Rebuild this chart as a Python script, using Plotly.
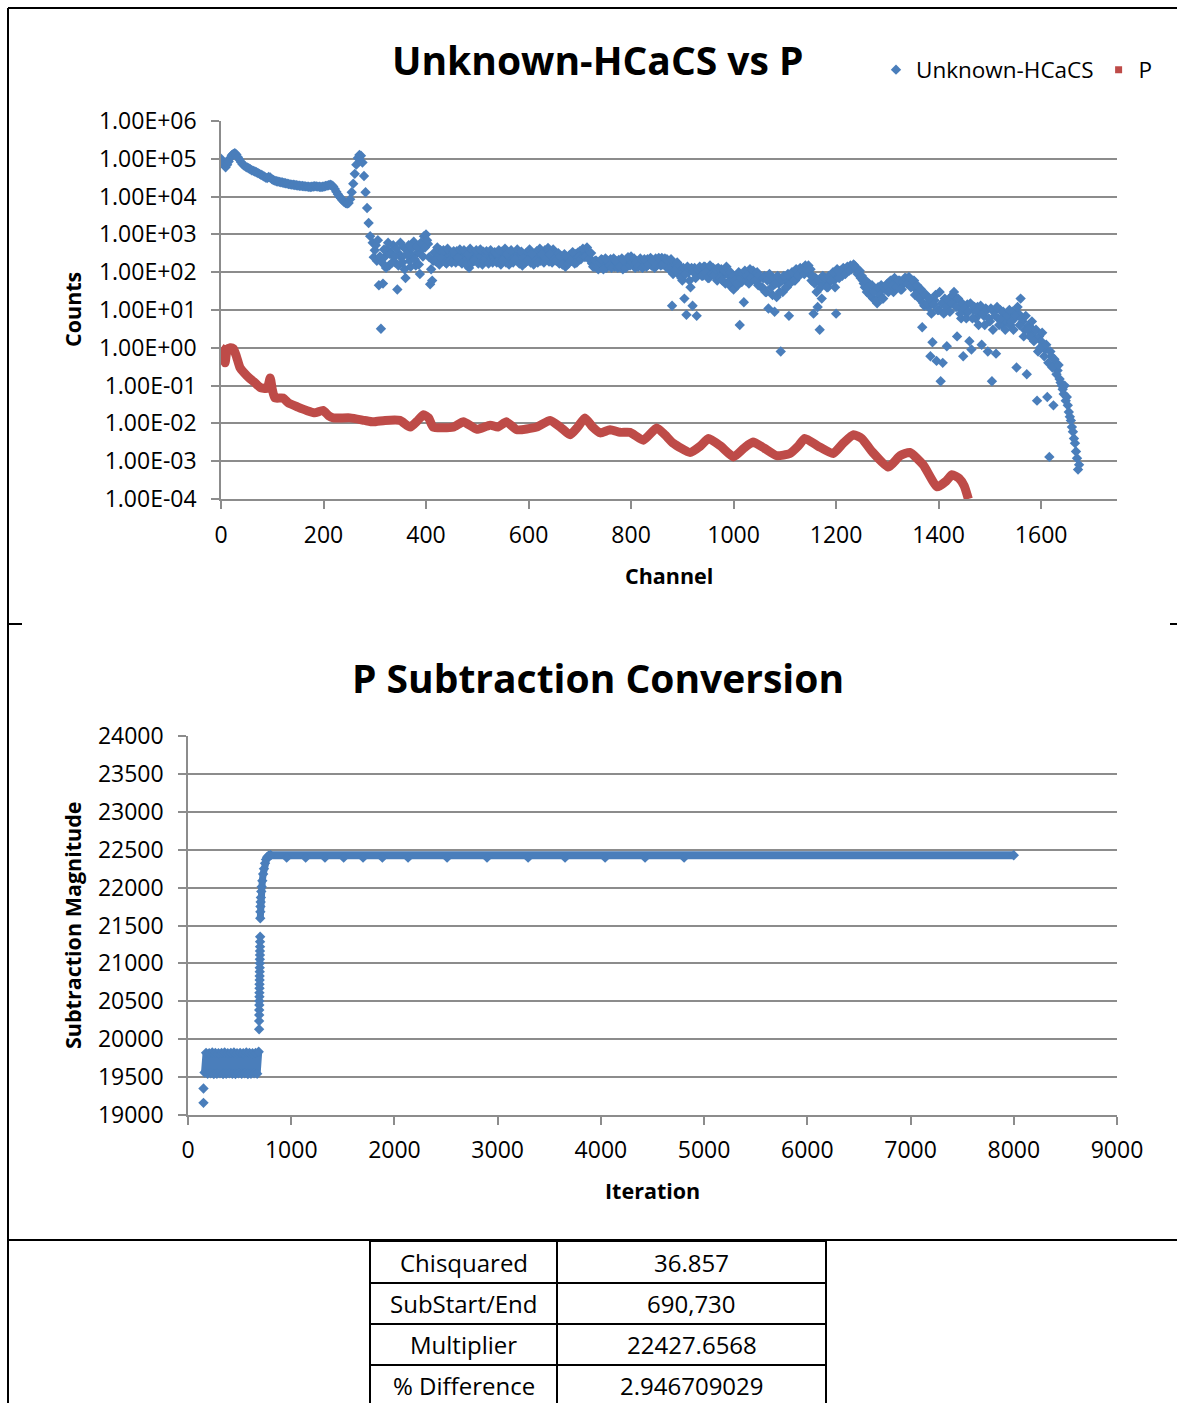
import plotly.graph_objects as go

# ---------------- data: spectrum comparison ----------------
# Unknown-HCaCS counts, low channels (every 3 channels from 0)
unknown_counts_low = [
    1.0e5, 8.5e4, 6.8e4, 6.0e4, 7.0e4, 8.5e4, 1.05e5, 1.25e5, 1.35e5, 1.4e5,
    1.3e5, 1.1e5, 9.5e4, 8.2e4, 7.2e4, 6.6e4, 6.2e4, 5.9e4, 5.6e4, 5.3e4,
    5.0e4, 4.8e4, 4.6e4, 4.4e4, 4.2e4, 4.0e4, 3.8e4, 3.6e4, 3.4e4, 3.2e4,
    3.1e4, 3.3e4, 3.2e4, 2.9e4, 2.75e4, 2.65e4, 2.55e4, 2.5e4, 2.45e4, 2.4e4,
    2.35e4, 2.3e4, 2.25e4, 2.2e4, 2.15e4, 2.1e4, 2.08e4, 2.05e4, 2.02e4, 2.0e4,
    1.97e4, 1.94e4, 1.92e4, 1.9e4, 1.88e4, 1.86e4, 1.84e4, 1.82e4, 1.8e4, 1.82e4,
    1.85e4, 1.88e4, 1.86e4, 1.84e4, 1.82e4, 1.8e4, 1.82e4, 1.85e4, 1.9e4, 1.95e4,
    2.0e4, 2.05e4, 2.0e4, 1.85e4, 1.6e4, 1.35e4, 1.15e4, 1.0e4, 9.0e3, 8.0e3,
    7.3e3, 6.8e3, 6.5e3, 6.8e3, 8.5e3, 1.3e4, 2.2e4, 4.0e4, 7.0e4, 1.05e5,
    1.26e5, 1.2e5, 8.0e4, 3.5e4, 1.3e4, 5.0e3, 2.0e3, 9.0e2,
]
unknown_low_start, unknown_low_step = 0, 3

# Unknown-HCaCS counts, high channels (every 4 channels from 296)
unknown_counts_high = [
    600, 380, 200, 45, 3.2, 50, 260, 420, 150, 320,
    520, 180, 35, 300, 240, 460, 70, 380, 200, 280,
    640, 150, 330, 90, 420, 900, 1000, 560, 48, 60,
    330, 190, 260, 380, 220, 300, 170, 260, 320, 240,
    280, 360, 200, 300, 250, 340, 220, 130, 280, 320,
    240, 300, 190, 260, 350, 230, 280, 210, 330, 250,
    300, 200, 270, 350, 240, 180, 290, 230, 310, 260,
    220, 300, 250, 150, 280, 330, 240, 180, 270, 300,
    360, 250, 200, 310, 380, 260, 190, 290, 400, 320,
    230, 170, 260, 200, 140, 230, 280, 200, 250, 300,
    330, 360, 300, 380, 340, 290, 230, 170, 140, 200,
    120, 150, 210, 170, 130, 190, 220, 160, 140, 180,
    210, 150, 120, 180, 160, 220, 260, 170, 130, 190,
    160, 200, 140, 180, 220, 170, 150, 200, 230, 180,
    200, 240, 170, 140, 190, 150, 13, 160, 130, 90,
    120, 60, 20, 7.5, 100, 40, 13, 130, 7, 90,
    120, 80, 140, 100, 70, 110, 130, 90, 60, 100,
    120, 80, 50, 90, 60, 40, 35, 70, 45, 4,
    55, 16, 60, 100, 120, 80, 95, 60, 45, 70,
    40, 80, 30, 11, 60, 25, 9, 22, 50, 0.8,
    30, 60, 40, 7, 70, 90, 60, 110, 80, 100,
    130, 150, 110, 90, 60, 8, 70, 12, 3, 20,
    50, 70, 40, 55, 80, 60, 8, 90, 110, 80,
    120, 100, 130, 150, 140, 150, 120, 100, 70, 60,
    40, 30, 50, 25, 20, 35, 15, 30, 45, 20,
    35, 50, 40, 60, 30, 55, 45, 60, 35, 50,
    70, 55, 65, 45, 60, 35, 30, 20, 3.5, 13,
    25, 12, 0.6, 1.4, 18, 0.45, 10, 0.13, 0.4, 20,
    1.1, 14, 22, 25, 18, 2, 12, 6, 0.6, 9,
    14, 1.5, 0.9, 10, 6, 12, 8, 1.2, 7, 11,
    0.8, 5, 0.13, 9, 0.7, 6, 10, 4, 8, 5,
    7, 4, 9, 6, 0.3, 8, 20, 5, 3, 0.2,
    4, 2.5, 3, 1.8, 0.04, 2, 1.5, 1.2, 0.9, 0.05,
    0.0013, 0.6, 0.03, 0.4, 0.25, 0.15, 0.1, 0.06, 0.04, 0.03,
    0.015, 0.008, 0.004, 0.0018, 0.0006,
]
unknown_high_start, unknown_high_step = 296, 4

# Unknown-HCaCS counts, interleaved channels (every 4 channels from 298)
unknown_counts_mid = [
    250, 520, 700, 260, 180, 400, 130, 600, 300, 180,
    260, 420, 150, 600, 180, 120, 300, 520, 140, 450,
    220, 480, 160, 600, 260, 450, 700, 250, 120, 200,
    200, 450, 160, 240, 380, 180, 420, 200, 180, 360,
    180, 240, 400, 170, 380, 160, 300, 420, 180, 200,
    380, 170, 400, 160, 190, 360, 170, 380, 180, 340,
    180, 380, 160, 200, 420, 300, 160, 380, 180, 220,
    400, 170, 350, 240, 180, 200, 400, 300, 160, 200,
    180, 420, 300, 180, 230, 440, 300, 180, 220, 200,
    320, 260, 160, 300, 260, 170, 200, 340, 170, 180,
    250, 220, 420, 250, 450, 220, 320, 140, 200, 130,
    180, 220, 120, 230, 200, 150, 130, 230, 200, 130,
    140, 230, 200, 130, 250, 150, 180, 230, 180, 140,
    230, 130, 220, 140, 160, 240, 200, 130, 160, 240,
    150, 160, 230, 220, 120, 220, 90, 110, 180, 150,
    70, 130, 90, 140, 60, 130, 100, 70, 120, 140,
    80, 140, 100, 70, 150, 90, 80, 120, 130, 70,
    60, 110, 140, 50, 100, 80, 60, 50, 100, 70,
    90, 110, 80, 50, 70, 110, 60, 100, 80, 40,
    70, 30, 60, 90, 40, 70, 50, 80, 30, 60,
    80, 40, 90, 50, 100, 60, 120, 80, 130, 110,
    90, 120, 150, 120, 80, 50, 30, 60, 40, 80,
    70, 40, 80, 60, 100, 40, 120, 70, 90, 130,
    90, 140, 110, 120, 160, 130, 90, 110, 80, 50,
    60, 40, 25, 45, 30, 18, 40, 25, 20, 40,
    45, 30, 60, 45, 70, 40, 60, 35, 55, 70,
    50, 75, 40, 60, 25, 45, 20, 35, 15, 25,
    15, 20, 8, 14, 25, 10, 30, 15, 8, 12,
    18, 9, 15, 30, 12, 20, 8, 15, 11, 6,
    9, 15, 6, 12, 9, 4, 13, 8, 4, 10,
    6, 11, 3, 7, 12, 4, 6, 9, 3, 7,
    10, 5, 3, 7, 12, 4, 6, 2, 7, 3,
    2, 5, 1.5, 3, 0.8, 1, 2.5, 0.6, 1.2, 0.4,
    0.8, 0.3, 0.5, 0.2, 0.35, 0.12, 0.08, 0.1, 0.05, 0.02,
    0.012, 0.006, 0.003, 0.0012, 0.0008,
]
unknown_mid_start, unknown_mid_step = 298, 4

# P reference spectrum
p_channel = [0, 4, 8, 12, 18, 24, 30, 37, 45, 57, 66, 76, 90, 96, 100, 105, 121, 131,
             150, 167, 183, 199, 210, 219, 252, 280, 297, 320, 349, 369, 384, 395, 405,
             414, 453, 473, 499, 525, 540, 557, 577, 616, 642, 662, 681, 696, 710, 725,
             740, 759, 779, 798, 824, 850, 866, 882, 915, 935, 951, 975, 1000, 1020,
             1038, 1060, 1084, 1110, 1126, 1139, 1165, 1194, 1214, 1234, 1250, 1270,
             1302, 1325, 1344, 1370, 1397, 1415, 1426, 1440, 1450, 1458]
p_counts = [1.0, 0.9, 0.4, 0.9, 1.0, 0.95, 0.6, 0.3, 0.22, 0.15, 0.12, 0.09, 0.085, 0.16,
            0.08, 0.047, 0.047, 0.035, 0.027, 0.022, 0.019, 0.022, 0.016, 0.014, 0.014,
            0.012, 0.011, 0.012, 0.012, 0.008, 0.012, 0.017, 0.014, 0.008, 0.008, 0.011,
            0.007, 0.009, 0.008, 0.011, 0.0068, 0.008, 0.012, 0.008, 0.005, 0.008, 0.014,
            0.008, 0.0056, 0.0068, 0.0058, 0.0058, 0.0036, 0.0076, 0.005, 0.003, 0.0017,
            0.0025, 0.004, 0.0025, 0.0013, 0.0022, 0.0032, 0.0022, 0.0014, 0.0016,
            0.0025, 0.004, 0.0025, 0.0016, 0.003, 0.005, 0.004, 0.0018, 0.0007, 0.0014,
            0.0017, 0.0008, 0.00021, 0.0003, 0.00044, 0.00035, 0.00022, 0.0001]

count_ticks = [1e-4, 1e-3, 1e-2, 1e-1, 1e0, 1e1, 1e2, 1e3, 1e4, 1e5, 1e6]
count_tick_text = ["1.00E-04", "1.00E-03", "1.00E-02", "1.00E-01", "1.00E+00",
                   "1.00E+01", "1.00E+02", "1.00E+03", "1.00E+04", "1.00E+05", "1.00E+06"]
channel_ticks = [0, 200, 400, 600, 800, 1000, 1200, 1400, 1600]

# ---------------- data: subtraction convergence ----------------
outlier_iter = [150, 150]
outlier_value = [19350, 19160]
band_iter = [160, 175, 190, 205, 220, 235, 250, 265, 280, 295, 310, 325, 340, 355, 370, 385,
             400, 415, 430, 445, 460, 475, 490, 505, 520, 535, 550, 565, 580, 595, 610, 625,
             640, 655, 670, 685]
band_value = [19560, 19820, 19545, 19815, 19550, 19825, 19540, 19820, 19545, 19815, 19550,
              19820, 19540, 19825, 19545, 19815, 19550, 19820, 19545, 19825, 19540, 19815,
              19550, 19820, 19545, 19815, 19550, 19825, 19540, 19820, 19545, 19815, 19550,
              19820, 19545, 19835]
jump_iter = [689, 689, 690, 690, 691, 691, 692, 692, 693, 693, 694, 694, 695, 695, 696, 696,
             697, 697, 698, 698, 699]
jump_value = [20131, 20240, 20319, 20385, 20451, 20504, 20561, 20614, 20672, 20725, 20781,
              20834, 20891, 20944, 21002, 21055, 21111, 21164, 21221, 21287, 21352]
rise_iter = [700, 701, 702, 704, 706, 710, 714, 720, 728, 736, 746, 756, 766, 780, 800]
rise_value = [21595, 21680, 21750, 21810, 21870, 21950, 22010, 22090, 22180, 22250, 22320,
              22370, 22400, 22420, 22427]
plateau_iter = [800, 8000]
plateau_value = [22427.6568, 22427.6568]
dip_iter = [956, 1140, 1327, 1508, 1696, 1883, 2132, 2510, 2897, 3295, 3653, 4041, 4428, 4806]
dip_value = [22395, 22395, 22395, 22395, 22395, 22395, 22395, 22395, 22395, 22395, 22395,
             22395, 22395, 22395]

magnitude_ticks = [19000, 19500, 20000, 20500, 21000, 21500, 22000, 22500, 23000, 23500, 24000]
magnitude_tick_text = ["19000", "19500", "20000", "20500", "21000", "21500", "22000",
                       "22500", "23000", "23500", "24000"]
iteration_ticks = [0, 1000, 2000, 3000, 4000, 5000, 6000, 7000, 8000, 9000]

# ---------------- data: fit summary table ----------------
table_labels = ["Chisquared", "SubStart/End", "Multiplier", "% Difference"]
table_values = ["36.857", "690,730", "22427.6568", "2.946709029"]

# ---------------- styling ----------------
W, H = 1177, 1403
FONT = "Open Sans"
BLUE = "#4a7ebb"
RED = "#be4b48"
GRID = "#8c8c8c"


def fx(px):
    return px / W


def fy(py):
    return 1 - py / H


def channels(start, step, values):
    return [start + step * i for i in range(len(values))]


fig = go.Figure()

# top chart traces
unknown_x = (channels(unknown_low_start, unknown_low_step, unknown_counts_low)
             + channels(unknown_high_start, unknown_high_step, unknown_counts_high)
             + channels(unknown_mid_start, unknown_mid_step, unknown_counts_mid))
unknown_y = unknown_counts_low + unknown_counts_high + unknown_counts_mid
fig.add_trace(go.Scatter(
    x=unknown_x, y=unknown_y, mode="markers", name="Unknown-HCaCS",
    marker=dict(symbol="diamond", size=8, color=BLUE, line=dict(width=0)),
    xaxis="x", yaxis="y", showlegend=True))
fig.add_trace(go.Scatter(
    x=p_channel, y=p_counts, mode="lines", name="P",
    line=dict(color=RED, width=9, shape="spline", smoothing=0.5),
    xaxis="x", yaxis="y", showlegend=False, legendgroup="p"))
fig.add_trace(go.Scatter(
    x=[None], y=[None], mode="markers", name="P",
    marker=dict(symbol="square", size=7, color=RED),
    xaxis="x", yaxis="y", showlegend=True, legendgroup="p"))

# bottom chart traces
mk = dict(symbol="diamond", size=8, color=BLUE, line=dict(width=0))
fig.add_trace(go.Scatter(x=outlier_iter, y=outlier_value, mode="markers", marker=mk,
                         xaxis="x2", yaxis="y2", showlegend=False))
fig.add_trace(go.Scatter(x=band_iter, y=band_value, mode="lines+markers", marker=mk,
                         line=dict(color=BLUE, width=7),
                         xaxis="x2", yaxis="y2", showlegend=False))
fig.add_trace(go.Scatter(x=jump_iter, y=jump_value, mode="markers", marker=mk,
                         xaxis="x2", yaxis="y2", showlegend=False))
fig.add_trace(go.Scatter(x=rise_iter, y=rise_value, mode="lines+markers", marker=mk,
                         line=dict(color=BLUE, width=7),
                         xaxis="x2", yaxis="y2", showlegend=False))
fig.add_trace(go.Scatter(x=plateau_iter, y=plateau_value, mode="lines+markers",
                         marker=dict(symbol="diamond", size=8, color=BLUE),
                         line=dict(color=BLUE, width=8),
                         xaxis="x2", yaxis="y2", showlegend=False))
fig.add_trace(go.Scatter(x=dip_iter, y=dip_value, mode="markers", marker=mk,
                         xaxis="x2", yaxis="y2", showlegend=False))

axis_common = dict(
    showline=True, linecolor=GRID, linewidth=1.5,
    ticks="outside", ticklen=8, tickwidth=1.5, tickcolor=GRID,
    tickfont=dict(family=FONT, size=23, color="#000"),
    zeroline=False, fixedrange=True, automargin=False,
)

fig.update_layout(
    width=W, height=H,
    margin=dict(l=0, r=0, t=0, b=0, pad=0, autoexpand=False),
    paper_bgcolor="white", plot_bgcolor="white",
    font=dict(family=FONT, color="#000"),
    xaxis=dict(domain=[fx(221), fx(1117)], anchor="y", range=[0, 1748],
               tickvals=channel_ticks, showgrid=False, ticklabelstandoff=7, **axis_common),
    yaxis=dict(domain=[fy(499), fy(121)], anchor="x", type="log", range=[-4, 6],
               tickvals=count_ticks, ticktext=count_tick_text, ticklabelstandoff=10,
               showgrid=True, gridcolor=GRID, gridwidth=1.5, **axis_common),
    xaxis2=dict(domain=[fx(188), fx(1117)], anchor="y2", range=[0, 9000],
                tickvals=iteration_ticks, showgrid=False, ticklabelstandoff=6, **axis_common),
    yaxis2=dict(domain=[fy(1115), fy(736)], anchor="x2", range=[19000, 24000],
                tickvals=magnitude_ticks, ticktext=magnitude_tick_text, ticklabelstandoff=10,
                showgrid=True, gridcolor=GRID, gridwidth=1.5, **axis_common),
    legend=dict(orientation="h", x=fx(876), y=fy(70), xanchor="left", yanchor="middle",
                font=dict(family=FONT, size=22.5, color="#000"), bgcolor="rgba(0,0,0,0)",
                itemsizing="trace"),
    showlegend=True,
)

# titles and axis titles
annotations = [
    dict(text="<b>Unknown-HCaCS vs P</b>", x=fx(598), y=fy(60), size=39),
    dict(text="<b>Channel</b>", x=fx(669), y=fy(575), size=21.5),
    dict(text="<b>Counts</b>", x=fx(72), y=fy(310), size=21.5, angle=-90),
    dict(text="<b>P Subtraction Conversion</b>", x=fx(598), y=fy(677), size=39),
    dict(text="<b>Iteration</b>", x=fx(652), y=fy(1190), size=21.5),
    dict(text="<b>Subtraction Magnitude</b>", x=fx(72), y=fy(925), size=21.5, angle=-90),
]
for a in annotations:
    fig.add_annotation(text=a["text"], x=a["x"], y=a["y"], xref="paper", yref="paper",
                       xanchor="center", yanchor="middle", showarrow=False,
                       textangle=a.get("angle", 0),
                       font=dict(family=FONT, size=a["size"], color="#000"))

# page frame lines
frame = [
    (8, 8, 1177, 8), (8, 8, 8, 1403), (8, 624, 22, 624), (1170, 624, 1177, 624),
    (8, 1240, 1177, 1240),
]
for x0, y0, x1, y1 in frame:
    fig.add_shape(type="line", xref="paper", yref="paper", x0=fx(x0), y0=fy(y0),
                  x1=fx(x1), y1=fy(y1), line=dict(color="#000", width=2))

# summary table
col_x = [370, 557, 826]
row_y = [1241, 1283, 1324, 1365, 1406]
for yy in row_y:
    fig.add_shape(type="line", xref="paper", yref="paper", x0=fx(col_x[0]), x1=fx(col_x[2]),
                  y0=fy(yy), y1=fy(yy), line=dict(color="#000", width=2))
for xx in col_x:
    fig.add_shape(type="line", xref="paper", yref="paper", x0=fx(xx), x1=fx(xx),
                  y0=fy(row_y[0]), y1=fy(row_y[-1]), line=dict(color="#000", width=2))
for i, (lab, val) in enumerate(zip(table_labels, table_values)):
    yc = (row_y[i] + row_y[i + 1]) / 2
    fig.add_annotation(text=lab, x=fx((col_x[0] + col_x[1]) / 2), y=fy(yc), xref="paper",
                       yref="paper", showarrow=False, xanchor="center", yanchor="middle",
                       font=dict(family=FONT, size=24, color="#000"))
    fig.add_annotation(text=val, x=fx((col_x[1] + col_x[2]) / 2), y=fy(yc), xref="paper",
                       yref="paper", showarrow=False, xanchor="center", yanchor="middle",
                       font=dict(family=FONT, size=24, color="#000"))

# the figure fills the page edge to edge
fig.write_html(
    "out.html",
    config={"responsive": False, "displayModeBar": False},
    post_script="document.body.style.margin='0px';"
                "document.documentElement.style.overflow='hidden';",
)
